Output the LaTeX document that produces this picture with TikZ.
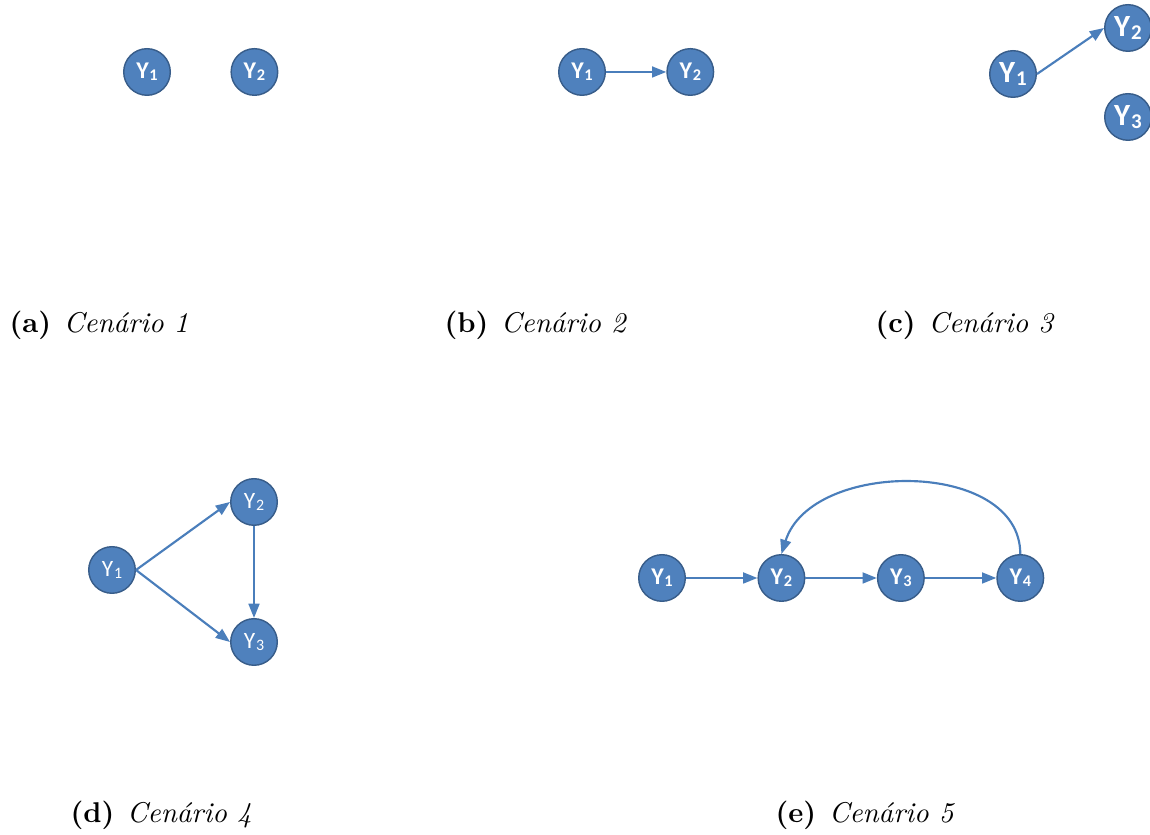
\documentclass[tikz,border=0pt]{standalone}
\usepackage{fontspec}
\usepackage{graphicx}
\usepackage{tikz}
\usetikzlibrary{arrows.meta, positioning}
\newfontfamily\carlito{Carlito}
\definecolor{varfill}{HTML}{4F81BD}
\definecolor{varline}{HTML}{385D8A}
\definecolor{arrowblue}{HTML}{4A7EBB}
% variable label with a small index
\newcommand{\yvar}[1]{Y\kern0.03em\raisebox{-0.1em}{\scalebox{0.68}{#1}}}

\begin{document}
\begin{tikzpicture}[
    x=0.35pt, y=0.35pt,
    var/.style={circle, draw=varline, fill=varfill, line width=0.5pt, minimum size=16.3pt, inner sep=0pt, text=white, font=\carlito\fontsize{8.2}{9}\selectfont},
    varbold/.style={var, font=\carlito\bfseries\fontsize{8.4}{9}\selectfont},
    varbig/.style={var, font=\carlito\bfseries\fontsize{10.8}{11}\selectfont},
    arrow/.style={-{Triangle[length=5pt, width=3.8pt]}, line width=0.75pt, draw=arrowblue},
    caption/.style={anchor=base west, inner sep=0pt, font=\normalsize}
]
\useasboundingbox (0,0) rectangle (1150,835);

% (a) Cenario 1
\node[varbold] (a1) at (147,763) {\yvar{1}};
\node[varbold, right=20.8pt of a1] (a2) {\yvar{2}};
\node[caption] (capa) at (9,502) {\textbf{(a)}\hspace{0.45em}\textit{Cenário 1}};

% (b) Cenario 2
\node[varbold] (b1) at (582,763) {\yvar{1}};
\node[varbold, right=21.1pt of b1] (b2) {\yvar{2}};
\node[caption] (capb) at (444,502) {\textbf{(b)}\hspace{0.45em}\textit{Cenário 2}};

% (c) Cenario 3
\node[varbig] (c1) at (1013,761) {\yvar{1}};
\node[varbig] (c2) at (1128,807) {\yvar{2}};
\node[varbig] (c3) at (1128,718) {\yvar{3}};
\node[caption] (capc) at (875,502) {\textbf{(c)}\hspace{0.45em}\textit{Cenário 3}};

% (d) Cenario 4
\node[var] (d1) at (112,265) {\yvar{1}};
\node[var] (d2) at (254,333) {\yvar{2}};
\node[var] (d3) at (254,193) {\yvar{3}};
\node[caption] (capd) at (70,12) {\textbf{(d)}\hspace{0.45em}\textit{Cenário 4}};

% (e) Cenario 5
\node[varbold] (e1) at (662,257) {\yvar{1}};
\node[varbold, right=25pt of e1] (e2) {\yvar{2}};
\node[varbold, right=25pt of e2] (e3) {\yvar{3}};
\node[varbold, right=25pt of e3] (e4) {\yvar{4}};
\node[caption] (cape) at (775,12) {\textbf{(e)}\hspace{0.45em}\textit{Cenário 5}};

% Arrows
\draw[arrow] (b1) -- (b2);
\draw[arrow] (c1.east) -- (c2.west);
\draw[arrow] (d1.east) -- (d2.west);
\draw[arrow] (d1.east) -- (d3.west);
\draw[arrow] (d2) -- (d3);
\draw[arrow] (e1) -- (e2);
\draw[arrow] (e2) -- (e3);
\draw[arrow] (e3) -- (e4);
\draw[arrow] (e4.north) .. controls +(0,95) and +(30,95) .. (e2.north);

\end{tikzpicture}
\end{document}
